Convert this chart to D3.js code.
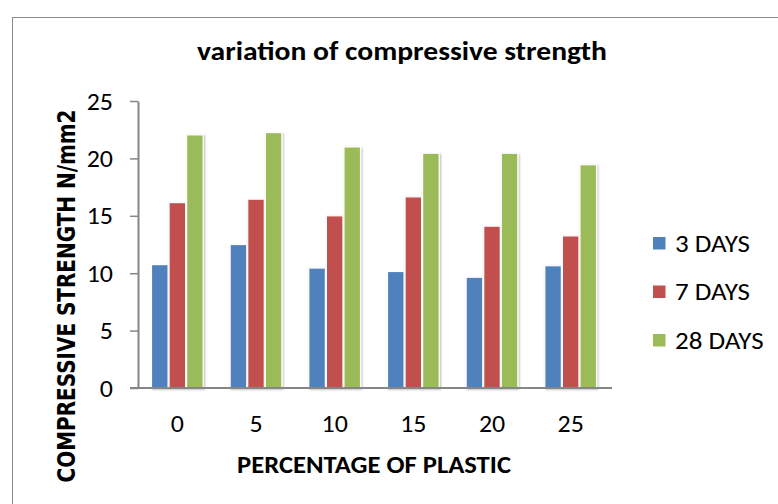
<!DOCTYPE html>
<html>
<head>
<meta charset="utf-8">
<script src="https://cdn.jsdelivr.net/npm/d3@7"></script>
<style>
  html, body { margin: 0; padding: 0; background: #fff; }
  svg { display: block; }
  text { font-family: Carlito, Calibri, Lato, sans-serif; fill: #000; }
</style>
</head>
<body>
<svg id="chart" width="778" height="504"></svg>
<script>
// Plastic replacement percentages (x categories)
const categories = ["0", "5", "10", "15", "20", "25"];
// Curing ages (series)
const seriesNames = ["3 DAYS", "7 DAYS", "28 DAYS"];
const seriesColors = ["#4f81bd", "#c0504d", "#9bbb59"];
// Compressive strength, N/mm2
const days3 = [10.75, 12.5, 10.45, 10.15, 9.65, 10.65];
const days7 = [16.15, 16.45, 15.0, 16.65, 14.1, 13.25];
const days28 = [22.05, 22.25, 21.0, 20.45, 20.45, 19.45];
const yTicks = [0, 5, 10, 15, 20, 25];

const seriesValues = [days3, days7, days28];

// text in this chart is set slightly wide
const WIDEN = 1.08;
function widen(sel) {
  sel.each(function () {
    const w = this.getComputedTextLength();
    d3.select(this).attr("textLength", w * WIDEN).attr("lengthAdjust", "spacingAndGlyphs");
  });
}

const svg = d3.select("#chart");

// soft shadow under the bars
const defs = svg.append("defs");
const f = defs.append("filter").attr("id", "shadow")
  .attr("x", "-30%").attr("y", "-10%").attr("width", "160%").attr("height", "120%");
f.append("feGaussianBlur").attr("in", "SourceAlpha").attr("stdDeviation", 1.2).attr("result", "b");
f.append("feOffset").attr("in", "b").attr("dx", 1).attr("dy", 1).attr("result", "o");
f.append("feComponentTransfer").attr("in", "o").attr("result", "s")
  .append("feFuncA").attr("type", "linear").attr("slope", 0.3);
const m = f.append("feMerge");
m.append("feMergeNode").attr("in", "s");
m.append("feMergeNode").attr("in", "SourceGraphic");

// chart frame
svg.append("rect")
  .attr("x", 12.5).attr("y", 17.5).attr("width", 800).attr("height", 520)
  .attr("fill", "none").attr("stroke", "#8a8a8a").attr("stroke-width", 1);

const plot = { left: 138, right: 610, top: 101, bottom: 388 };

const x0 = d3.scaleBand().domain(categories)
  .range([plot.left, plot.right]).paddingInner(0.33).paddingOuter(0.165);
const x1 = d3.scaleBand().domain(seriesNames)
  .range([0, x0.bandwidth()]).padding(0);
const y = d3.scaleLinear().domain([0, 25]).range([plot.bottom, plot.top]);

// bars
const groups = svg.append("g").selectAll("g")
  .data(categories)
  .join("g")
  .attr("transform", d => `translate(${x0(d)},0)`);

groups.selectAll("rect")
  .data((d, i) => seriesNames.map((s, k) => ({ s, k, v: seriesValues[k][i] })))
  .join("rect")
  .attr("x", d => x1(d.s) + 0.5)
  .attr("width", x1.bandwidth() - 1)
  .attr("y", d => y(d.v))
  .attr("height", d => y(0) - y(d.v))
  .attr("fill", d => seriesColors[d.k])
  .attr("stroke", "#fff")
  .attr("stroke-width", 1.2)
  .attr("filter", "url(#shadow)");

// y axis
const yAxis = svg.append("g")
  .attr("transform", `translate(${plot.left},0)`)
  .call(d3.axisLeft(y).tickValues(yTicks).tickSize(8).tickSizeOuter(0).tickPadding(17));
yAxis.attr("font-family", null).attr("font-size", null);
yAxis.select(".domain").attr("stroke", "#868686").attr("stroke-width", 2);
yAxis.selectAll(".tick line").attr("stroke", "#868686").attr("stroke-width", 1.5);
yAxis.selectAll(".tick text")
  .attr("font-size", 24).attr("dy", "0.34em").attr("fill", "#000")
  .call(widen);

// x axis
const xAxis = svg.append("g")
  .attr("transform", `translate(0,${plot.bottom})`)
  .call(d3.axisBottom(x0).tickSize(0).tickSizeOuter(0).tickPadding(0));
xAxis.attr("font-family", null).attr("font-size", null);
xAxis.select(".domain")
  .attr("d", `M${plot.left - 8},0H${plot.right + 2}`)
  .attr("stroke", "#868686").attr("stroke-width", 2);
xAxis.selectAll(".tick text")
  .attr("font-size", 24).attr("y", 44).attr("dy", null).attr("fill", "#000")
  .call(widen);

// titles
svg.append("text")
  .attr("x", 402).attr("y", 60)
  .attr("text-anchor", "middle")
  .attr("font-size", 27).attr("font-weight", "bold")
  .attr("textLength", 410).attr("lengthAdjust", "spacingAndGlyphs")
  .text("variation of compressive strength");

svg.append("text")
  .attr("x", 374).attr("y", 472.5)
  .attr("text-anchor", "middle")
  .attr("font-size", 24).attr("font-weight", "bold")
  .attr("textLength", 274).attr("lengthAdjust", "spacingAndGlyphs")
  .text("PERCENTAGE OF PLASTIC");

svg.append("text")
  .attr("transform", "translate(75,296) rotate(-90) scale(1,1.2)")
  .attr("text-anchor", "middle")
  .style("font-family", "'DejaVu Sans', Verdana, sans-serif")
  .attr("font-size", 20).attr("font-weight", "bold")
  .attr("textLength", 373).attr("lengthAdjust", "spacingAndGlyphs")
  .text("COMPRESSIVE STRENGTH N/mm2");

// legend
const legend = svg.append("g").attr("transform", "translate(653,0)");
const ly = [243, 291.5, 340];
seriesNames.forEach((s, i) => {
  legend.append("rect")
    .attr("x", 0).attr("y", ly[i] - 6).attr("width", 12.5).attr("height", 12.5)
    .attr("fill", seriesColors[i]);
  legend.append("text")
    .attr("x", 22).attr("y", ly[i] + 8.5)
    .attr("font-size", 25)
    .text(s)
    .call(widen);
});
</script>
</body>
</html>
